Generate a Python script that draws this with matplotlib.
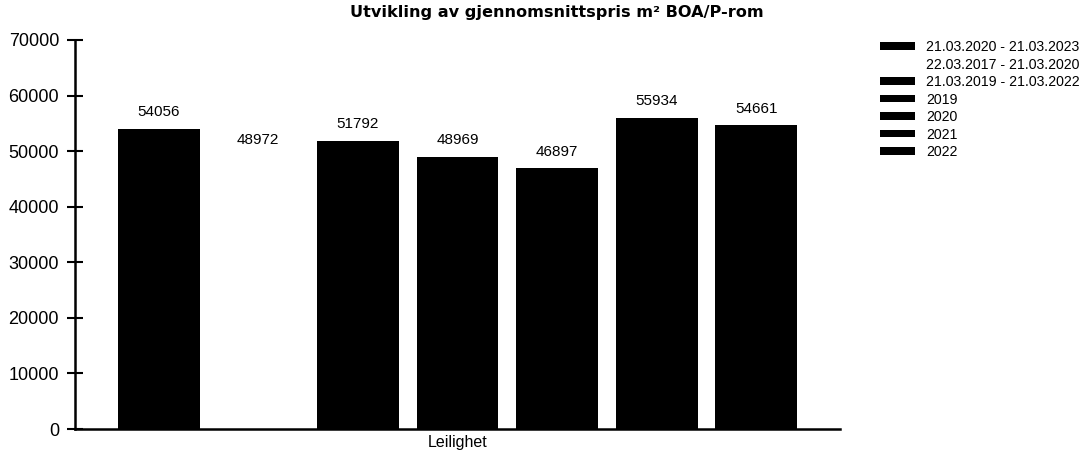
import numpy as np
from matplotlib import pyplot as plt
from matplotlib.patches import Patch

plt.rcParams['font.family'] = ['Liberation Sans', 'DejaVu Sans']

category = "Leilighet"
series = ["21.03.2020 - 21.03.2023", "22.03.2017 - 21.03.2020", "21.03.2019 - 21.03.2022",
          "2019", "2020", "2021", "2022"]
values = [54056, 48972, 51792, 48969, 46897, 55934, 54661]
colors = ["black", "white", "black", "black", "black", "black", "black"]

fig = plt.figure(figsize=(10.9, 4.55), dpi=100)
ax = fig.add_axes([75 / 1090, 1 - 429 / 455, 765 / 1090, 389 / 455])

x = np.arange(len(values))
bars = ax.bar(x, values, width=0.82, color=colors)

for xi, v in zip(x, values):
    ax.annotate(str(v), (xi, v), xytext=(0, 7), textcoords="offset points",
                ha="center", va="bottom", fontsize=11)

ax.set_xlim(-0.84, len(values) - 1 + 0.84)
ax.set_ylim(0, 70000)
ax.set_yticks(np.arange(0, 70001, 10000))
ax.set_xticks([(len(values) - 1) / 2])
ax.set_xticklabels([category], fontsize=11.5)
ax.tick_params(axis="x", length=0, pad=4)
ax.tick_params(axis="y", direction="inout", length=11, width=1.5, labelsize=13, pad=6)

for side in ["top", "right"]:
    ax.spines[side].set_visible(False)
for side in ["left", "bottom"]:
    ax.spines[side].set_linewidth(1.8)

handles = [Patch(facecolor=c, edgecolor="none") for c in colors]
fig.legend(handles, series, loc="upper left", bbox_to_anchor=(880 / 1090, 1 - 40 / 455),
           frameon=False, fontsize=10.2, handlelength=2.45, handleheight=0.45,
           labelspacing=0.25, handletextpad=0.8, borderpad=0, borderaxespad=0)

fig.text(557 / 1090, 1 - 12 / 455, "Utvikling av gjennomsnittspris m² BOA/P-rom",
         ha="center", va="center", fontsize=11.6, fontweight="bold", family="DejaVu Sans")

fig.savefig("out.png", dpi=100)
